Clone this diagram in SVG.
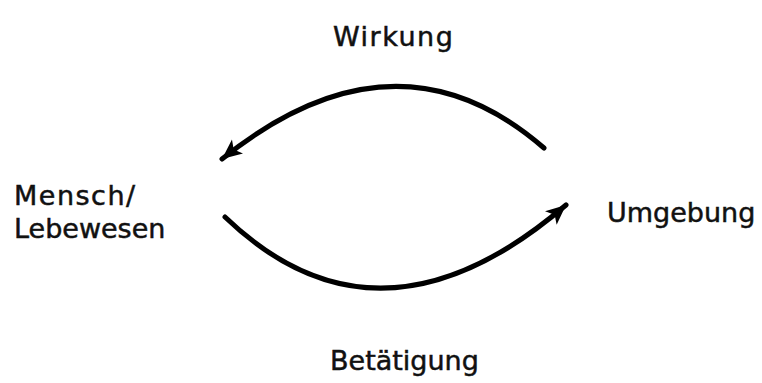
<svg xmlns="http://www.w3.org/2000/svg" width="762" height="383" viewBox="0 0 762 383">
<style>
.lbl{font-family:"DejaVu Sans","Liberation Sans",sans-serif;font-size:27px;fill:#111;stroke:#111;stroke-width:0.5;}
.arc{fill:none;stroke:#000;stroke-width:5;stroke-linecap:round;}
</style>
<defs>
<marker id="ah" markerUnits="userSpaceOnUse" markerWidth="26" markerHeight="22" refX="20" refY="9" orient="auto">
<path d="M0,0 L20,9 L0,18 L5,9 Z" fill="#000"/>
</marker>
</defs>
<rect width="762" height="383" fill="#fff"/>
<g id="connectors">
<path id="wirkung-arc" class="arc" d="M544,148 Q396,19.5 222,159" marker-end="url(#ah)"/>
<path id="betaetigung-arc" class="arc" d="M225,217 Q379,365 566,205" marker-end="url(#ah)"/>
</g>
<g id="mensch">
<text class="lbl" x="14" y="205" letter-spacing="1.5">Mensch/</text>
<text class="lbl" x="14" y="238">Lebewesen</text>
</g>
<g id="umgebung">
<text class="lbl" x="607" y="222">Umgebung</text>
</g>
<g id="wirkung">
<text class="lbl" x="333" y="46" letter-spacing="1.5">Wirkung</text>
</g>
<g id="betaetigung">
<text class="lbl" x="330" y="370">Betätigung</text>
</g>
</svg>
